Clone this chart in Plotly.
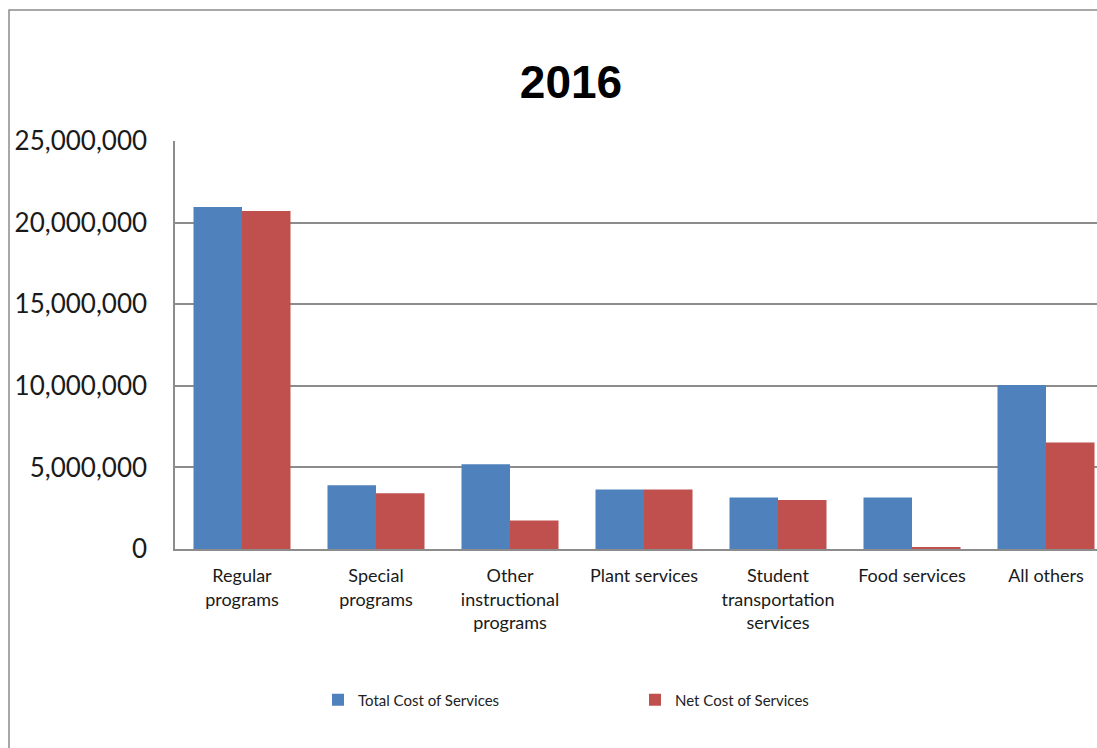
import plotly.graph_objects as go

categories = ["Regular<br>programs", "Special<br>programs", "Other<br>instructional<br>programs",
              "Plant services", "Student<br>transportation<br>services", "Food services", "All others"]
total_cost = [20960000, 3900000, 5200000, 3650000, 3150000, 3150000, 10050000]
net_cost = [20710000, 3420000, 1740000, 3650000, 3000000, 100000, 6520000]
series_names = ["Total Cost of Services", "Net Cost of Services"]
y_ticks = [0, 5000000, 10000000, 15000000, 20000000, 25000000]

W, H = 1097, 748
L, T, B = 175, 141, 199
plot_w = W - L
plot_h = H - T - B

fig = go.Figure()
fig.add_trace(go.Bar(x=categories, y=total_cost, name=series_names[0], marker=dict(color="#4F81BD", line_width=0)))
fig.add_trace(go.Bar(x=categories, y=net_cost, name=series_names[1], marker=dict(color="#C0504D", line_width=0)))

cat_w = 134.0
fig.update_layout(
    width=W, height=H,
    margin=dict(l=L, r=0, t=T, b=B, pad=0),
    paper_bgcolor="white", plot_bgcolor="white",
    barmode="group", bargap=0.276, bargroupgap=0,
    title=dict(text="<b>2016</b>", x=571 / W, xref="container", xanchor="center",
               y=1 - 82 / H, yref="container", yanchor="middle",
               font=dict(family="Liberation Sans, Arial", size=46, color="black")),
    font=dict(family="Lato, Open Sans, sans-serif", color="#1a1a1a"),
    showlegend=True,
    legend=dict(orientation="h", x=(318 - L) / plot_w, xanchor="left",
                y=1 - 700 / H, yref="container", yanchor="middle",
                entrywidth=272, entrywidthmode="pixels", itemwidth=30,
                font=dict(family="Lato, sans-serif", size=15, color="#222")),
    xaxis=dict(range=[-0.5, -0.5 + plot_w / cat_w], showgrid=False, showline=True,
               linecolor="#8c8c8c", linewidth=1.5, ticks="", ticklabelstandoff=10,
               tickfont=dict(family="Lato, sans-serif", size=18, color="#1a1a1a"), fixedrange=True),
    yaxis=dict(range=[0, 25000000], tickvals=y_ticks, tickformat=",", showgrid=True,
               gridcolor="#8c8c8c", gridwidth=1.5, showline=True, linecolor="#8c8c8c", linewidth=1.5,
               zeroline=False, ticks="", ticklabelstandoff=21,
               tickfont=dict(family="Lato, sans-serif", size=26, color="#1a1a1a")),
)

# outer chart border (extends beyond the visible window on the right and bottom)
fig.add_shape(type="rect", xref="paper", yref="paper",
              x0=(9 - L) / plot_w, x1=(W + 20 - L) / plot_w,
              y0=(H - B - (H + 20)) / plot_h, y1=(H - B - 10) / plot_h,
              line=dict(color="#8c8c8c", width=1.5), fillcolor="rgba(0,0,0,0)", layer="below")

fig.write_html("out.html")
